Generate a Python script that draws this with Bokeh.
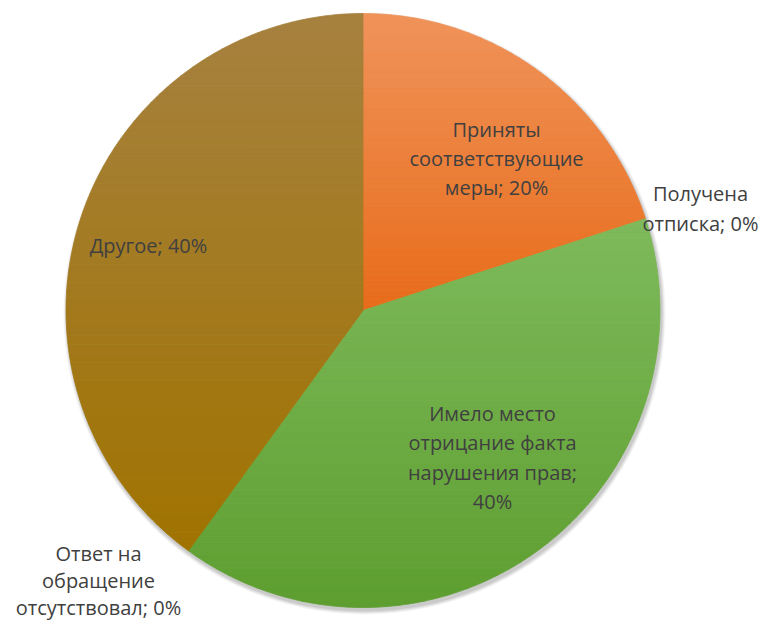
import numpy as np
from bokeh.plotting import figure
from bokeh.models import Range1d
from bokeh.embed import file_html
from bokeh.resources import INLINE
from bokeh.core.properties import value

# ---- data ----
categories = ["Приняты соответствующие меры", "Получена отписка",
              "Имело место отрицание факта нарушения прав",
              "Ответ на обращение отсутствовал", "Другое"]
shares = [20, 0, 40, 0, 40]
label_texts = ["Приняты\nсоответствующие\nмеры; 20%",
               "Получена\nотписка; 0%",
               "Имело место\nотрицание факта\nнарушения прав;\n40%",
               "Ответ на\nобращение\nотсутствовал; 0%",
               "Другое; 40%"]

# ---- styles / layout ----
top_colors = ["#F0935A", "#A5A5A5", "#7EBA5B", "#5B9BD5", "#A6813F"]
bottom_colors = ["#E86C1A", "#A5A5A5", "#5E9E30", "#5B9BD5", "#A07300"]
# (x, y) in picture pixels from top-left, and line height factor
label_px = [(496, 158), (700, 208), (492, 457), (98, 580), (148, 245)]
label_lh = [1.08, 1.08, 1.08, 1.0, 1.08]

W, H = 762, 626
CX, CY, R = 362.5, H - 310, 297

p = figure(width=W, height=H, output_backend="svg", toolbar_location=None,
           x_range=Range1d(0, W), y_range=Range1d(0, H),
           min_border=0, outline_line_color=None)
p.axis.visible = False
p.grid.visible = False
p.background_fill_color = "white"
p.border_fill_color = "white"

# soft shadow
for k, a in enumerate([0.04, 0.05, 0.06, 0.07]):
    p.circle(x=[CX + 1.5], y=[CY - 3], radius=R + 4 - k,
             fill_color="black", fill_alpha=a, line_color=None)


def hex2rgb(h):
    h = h.lstrip("#")
    return np.array([int(h[i:i + 2], 16) for i in (0, 2, 4)], dtype=float)


def rgb2hex(c):
    c = np.clip(np.round(c), 0, 255).astype(int)
    return "#%02x%02x%02x" % tuple(c)


def clip_half(poly, y0, keep_above):
    out = []
    n = len(poly)
    for i in range(n):
        a = poly[i]
        b = poly[(i + 1) % n]
        ina = a[1] >= y0 if keep_above else a[1] <= y0
        inb = b[1] >= y0 if keep_above else b[1] <= y0
        if ina:
            out.append(a)
        if ina != inb:
            t = (y0 - a[1]) / (b[1] - a[1])
            out.append((a[0] + t * (b[0] - a[0]), y0))
    return out


total = float(sum(shares))
start = np.pi / 2
for i, v in enumerate(shares):
    sweep = 2 * np.pi * v / total
    a0, a1 = start, start - sweep
    start = a1
    if v == 0:
        continue
    t = np.linspace(a0, a1, 240)
    poly = [(CX, CY)] + list(zip(CX + R * np.cos(t), CY + R * np.sin(t)))
    ys = [q[1] for q in poly]
    ymin, ymax = min(ys), max(ys)
    nb = 60
    edges = np.linspace(ymin, ymax, nb + 1)
    ctop, cbot = hex2rgb(top_colors[i]), hex2rgb(bottom_colors[i])
    xs_list, ys_list, cols = [], [], []
    for b in range(nb):
        lo, hi = edges[b], edges[b + 1]
        pc = clip_half(poly, lo, True)
        if len(pc) < 3:
            continue
        pc = clip_half(pc, hi, False)
        if len(pc) < 3:
            continue
        f = 1 - ((lo + hi) / 2 - ymin) / (ymax - ymin)  # 0 top, 1 bottom
        col = rgb2hex(ctop + (cbot - ctop) * f)
        xs_list.append([q[0] for q in pc])
        ys_list.append([q[1] for q in pc])
        cols.append(col)
    p.patches(xs=xs_list, ys=ys_list, fill_color=cols, line_color=cols,
              line_width=0.8)

# labels
for txt, (px, py), lh in zip(label_texts, label_px, label_lh):
    p.text(x=[px], y=[H - py], text=[txt], text_align="center",
           text_baseline="middle", text_font=value("Open Sans"),
           text_font_size="20px", text_color="#404040", text_line_height=lh)

open("out.html", "w").write(file_html(p, INLINE))
